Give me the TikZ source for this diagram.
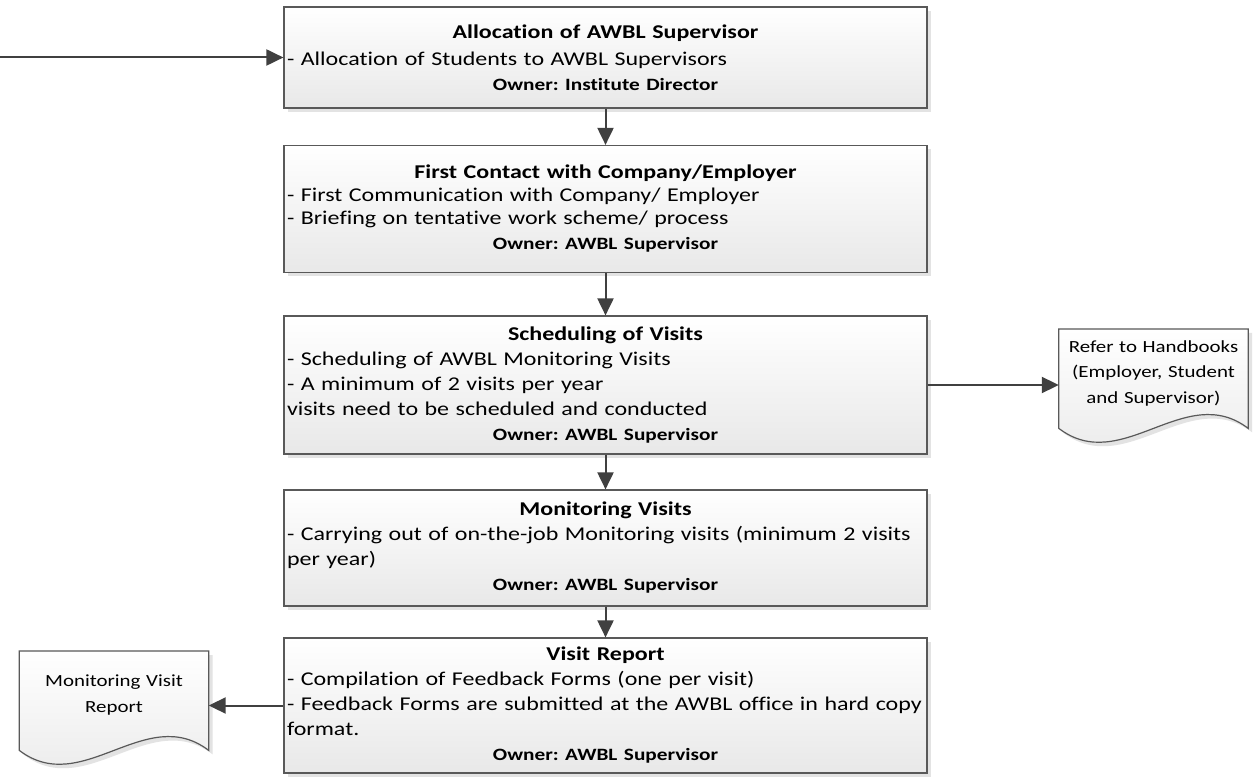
\documentclass[tikz,border=0pt]{standalone}
\usepackage{fontspec}
\setmainfont{Carlito}[FakeStretch=1.23, Ligatures=NoCommon]
\usetikzlibrary{arrows.meta,shadows,backgrounds}
\frenchspacing

\def\ownerfont{\fontsize{17.3}{25}\selectfont\bfseries}
\def\boxtext#1#2#3{{\centering\bfseries #1\par}#2\par{\centering\ownerfont #3\par}}
\def\docshape#1{\draw[docline] (#1.north west) -- (#1.north east) -- ([yshift=-11pt]#1.south east) .. controls +(-63,48) and +(63,-48) .. ([yshift=-11pt]#1.south west) -- cycle;}

\tikzset{
  procbox/.style={rectangle, draw=black!65, line width=1.2pt, minimum width=643pt,
    text width=637pt, inner xsep=3pt, inner ysep=0pt, align=left,
    top color=white, bottom color=black!9,
    drop shadow={shadow xshift=4pt, shadow yshift=-4pt, fill=black!11, opacity=1},
    font=\fontsize{19.5}{25}\selectfont},
  docline/.style={draw=black!65, line width=1.2pt, top color=white, bottom color=black!9,
    drop shadow={shadow xshift=4pt, shadow yshift=-4pt, fill=black!11, opacity=1}},
  docnode/.style={rectangle, anchor=north, minimum width=189pt, minimum height=88pt,
    text width=183pt, inner sep=0pt, align=center, font=\fontsize{17}{25.5}\selectfont},
  flowarrow/.style={draw=black!75, line width=2pt, -{Triangle[length=17pt,width=16pt]}}
}

\begin{document}
\begin{tikzpicture}[x=1pt,y=1pt]
	\useasboundingbox (0,0) rectangle (1255,780);

	% process steps
	\node[procbox, minimum height=101pt, font=\fontsize{19.5}{27.5}\selectfont] (alloc) at (605.5,722.5)
		{\boxtext{Allocation of AWBL Supervisor}{- Allocation of Students to AWBL Supervisors}{Owner: Institute Director}};
	\node[procbox, minimum height=127pt, font=\fontsize{19.5}{23}\selectfont] (contact) at (605.5,571)
		{\boxtext{First Contact with Company/Employer}{- First Communication with Company/ Employer\\- Briefing on tentative work scheme/ process}{Owner: AWBL Supervisor}};
	\node[procbox, minimum height=138pt] (sched) at (605.5,395)
		{\boxtext{Scheduling of Visits}{- Scheduling of AWBL Monitoring Visits\\- A minimum of 2 visits per year\\visits need to be scheduled and conducted}{Owner: AWBL Supervisor}};
	\node[procbox, minimum height=116pt] (monitor) at (605.5,232)
		{\boxtext{Monitoring Visits}{\mbox{- Carrying out of on-the-job Monitoring visits (minimum 2 visits}\\per year)}{Owner: AWBL Supervisor}};
	\node[procbox, minimum height=135pt] (report) at (605.5,74.5)
		{\boxtext{Visit Report}{- Compilation of Feedback Forms (one per visit)\\\mbox{- Feedback Forms are submitted at the AWBL office in hard copy}\\format.}{Owner: AWBL Supervisor}};

	% documents
	\node[docnode] (handbook) at (1153.5,451) {Refer to Handbooks\\(Employer, Student\\and Supervisor)};
	\node[docnode] (visitdoc) at (114,129) {Monitoring Visit\\Report};

	\begin{scope}[on background layer]
		\fill[white] (0,0) rectangle (1255,780);
		\docshape{handbook}
		\docshape{visitdoc}
	\end{scope}

	% connectors
	\coordinate (entry) at (0,722.5);
	\draw[flowarrow] (entry) -- (alloc.west);
	\draw[flowarrow] (alloc.south) -- (contact.north);
	\draw[flowarrow] (contact.south) -- (sched.north);
	\draw[flowarrow] (sched.south) -- (monitor.north);
	\draw[flowarrow] (monitor.south) -- (report.north);
	\draw[flowarrow] (sched.east) -- (sched.east -| handbook.west);
	\draw[flowarrow] (report.west) -- (report.west -| visitdoc.east);
\end{tikzpicture}
\end{document}
